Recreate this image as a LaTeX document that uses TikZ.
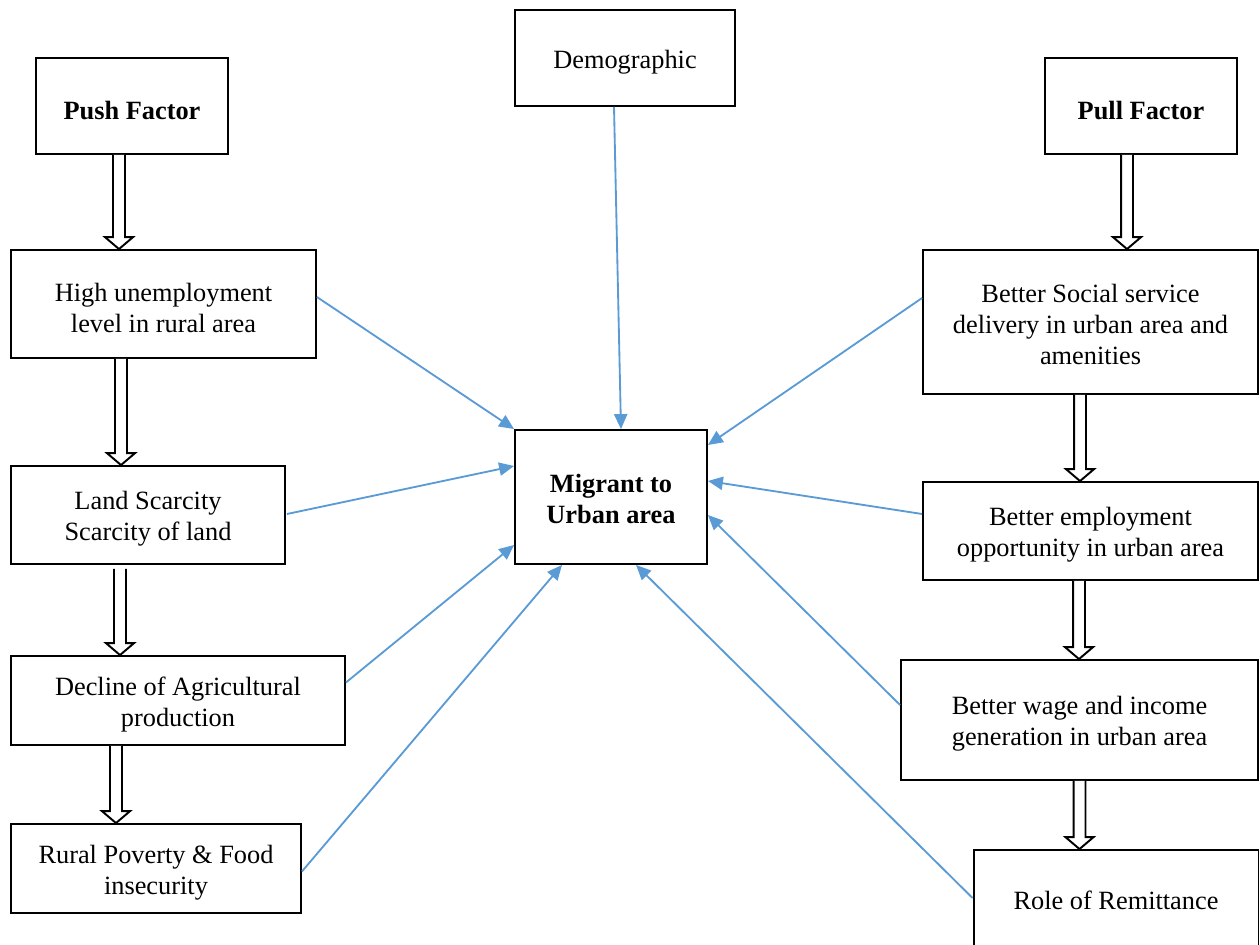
\documentclass[tikz,border=0pt]{standalone}
\usepackage{fontspec}
\setmainfont{Liberation Serif}
\usetikzlibrary{calc,arrows.meta}
\definecolor{arrowblue}{HTML}{5B9BD5}
\newcommand{\tstrut}{\rule{0pt}{15pt}}
\begin{document}
\begin{tikzpicture}[x=0.02cm,y=-0.02cm,
  box/.style={draw,line width=1.1pt,align=center,inner sep=0pt,font=\fontsize{15}{17.6}\selectfont},
  bbox/.style={box,font=\fontsize{15}{17.6}\selectfont\bfseries},
  blue/.style={draw=arrowblue,line width=1.05pt,-{Triangle[length=8.5pt,width=7.5pt]}},
  hollow/.style={draw,line width=1.1pt,fill=white,line join=miter,
    to path={let \p1=(\tikztostart), \p2=(\tikztotarget) in
      (\x1-3.4pt,\y1) -- (\x1-3.4pt,\y2+6.8pt) -- (\x1-8pt,\y2+6.8pt) -- (\x1,\y2)
      -- (\x1+8pt,\y2+6.8pt) -- (\x1+3.4pt,\y2+6.8pt) -- (\x1+3.4pt,\y1)}}]
\useasboundingbox (0,0) rectangle (1260,945);

\node[bbox,minimum width=3.84cm,minimum height=1.92cm] (push) at (132,106) {\tstrut Push Factor};
\node[box,minimum width=4.4cm,minimum height=1.92cm] (demo) at (625,58) {\tstrut Demographic};
\node[bbox,minimum width=3.84cm,minimum height=1.92cm] (pull) at (1141,106) {\tstrut Pull Factor};

\node[box,minimum width=6.1cm,minimum height=2.16cm] (high) at (163.5,304) {\tstrut High unemployment\\level in rural area};
\node[box,minimum width=5.48cm,minimum height=1.96cm] (land) at (148,515) {\tstrut Land Scarcity\\Scarcity of land};
\node[box,minimum width=6.68cm,minimum height=1.78cm] (decl) at (178,700.5) {\tstrut Decline of Agricultural\\production};
\node[box,minimum width=5.8cm,minimum height=1.78cm] (rural) at (156,868.5) {\tstrut Rural Poverty \& Food\\insecurity};

\node[bbox,minimum width=3.84cm,minimum height=2.68cm] (mig) at (611,497) {\rule{0pt}{13pt}Migrant to\\Urban area};

\node[box,minimum width=6.7cm,minimum height=2.88cm] (soc) at (1090.5,322) {\rule{0pt}{13pt}Better Social service\\delivery in urban area and\\amenities};
\node[box,minimum width=6.7cm,minimum height=1.96cm] (emp) at (1090.5,531) {\tstrut Better employment\\opportunity in urban area};
\node[box,minimum width=7.14cm,minimum height=2.4cm] (wage) at (1079.5,720) {\tstrut Better wage and income\\generation in urban area};
\node[box,minimum width=5.7cm,minimum height=2.0cm] (rem) at (1116,900) {Role of Remittance};

% hollow arrows
\draw[hollow] ($(push.south)+(-13,0)$) to (high.north);
\draw[hollow] ($(high.south)+(-42.5,0)$) to (land.north);
\draw[hollow] ($(land.south)+(-28,4)$) to (decl.north);
\draw[hollow] ($(decl.south)+(-62,0)$) to (rural.north);
\draw[hollow] ($(pull.south)+(-14,0)$) to (soc.north);
\draw[hollow] ($(soc.south)+(-10.5,0)$) to (emp.north);
\draw[hollow] ($(emp.south)+(-11.5,0)$) to (wage.north);
\draw[hollow] (wage.south) to (rem.north);

% blue arrows
\draw[blue] ($(high.east)+(0,-7)$) -- (mig.north west);
\draw[blue] ($(demo.south)+(-11,0)$) -- ($(mig.north)+(10,0)$);
\draw[blue] ($(land.east)+(1,-1)$) -- ($(mig.west)+(0,-31)$);
\draw[blue] ($(decl.east)+(0,-18)$) -- ($(mig.west)+(0,48)$);
\draw[blue] ($(rural.east)+(0,3)$) -- ($(mig.south)+(-49,0)$);
\draw[blue] ($(soc.west)+(0,-24)$) -- ($(mig.east)+(0,-52)$);
\draw[blue] ($(emp.west)+(0,-17)$) -- ($(mig.east)+(0,-16)$);
\draw[blue] ($(wage.west)+(0,-15)$) -- ($(mig.east)+(0,18)$);
\draw[blue] ($(rem.west)+(0,-2)$) -- ($(mig.south)+(25,0)$);
\end{tikzpicture}
\end{document}
